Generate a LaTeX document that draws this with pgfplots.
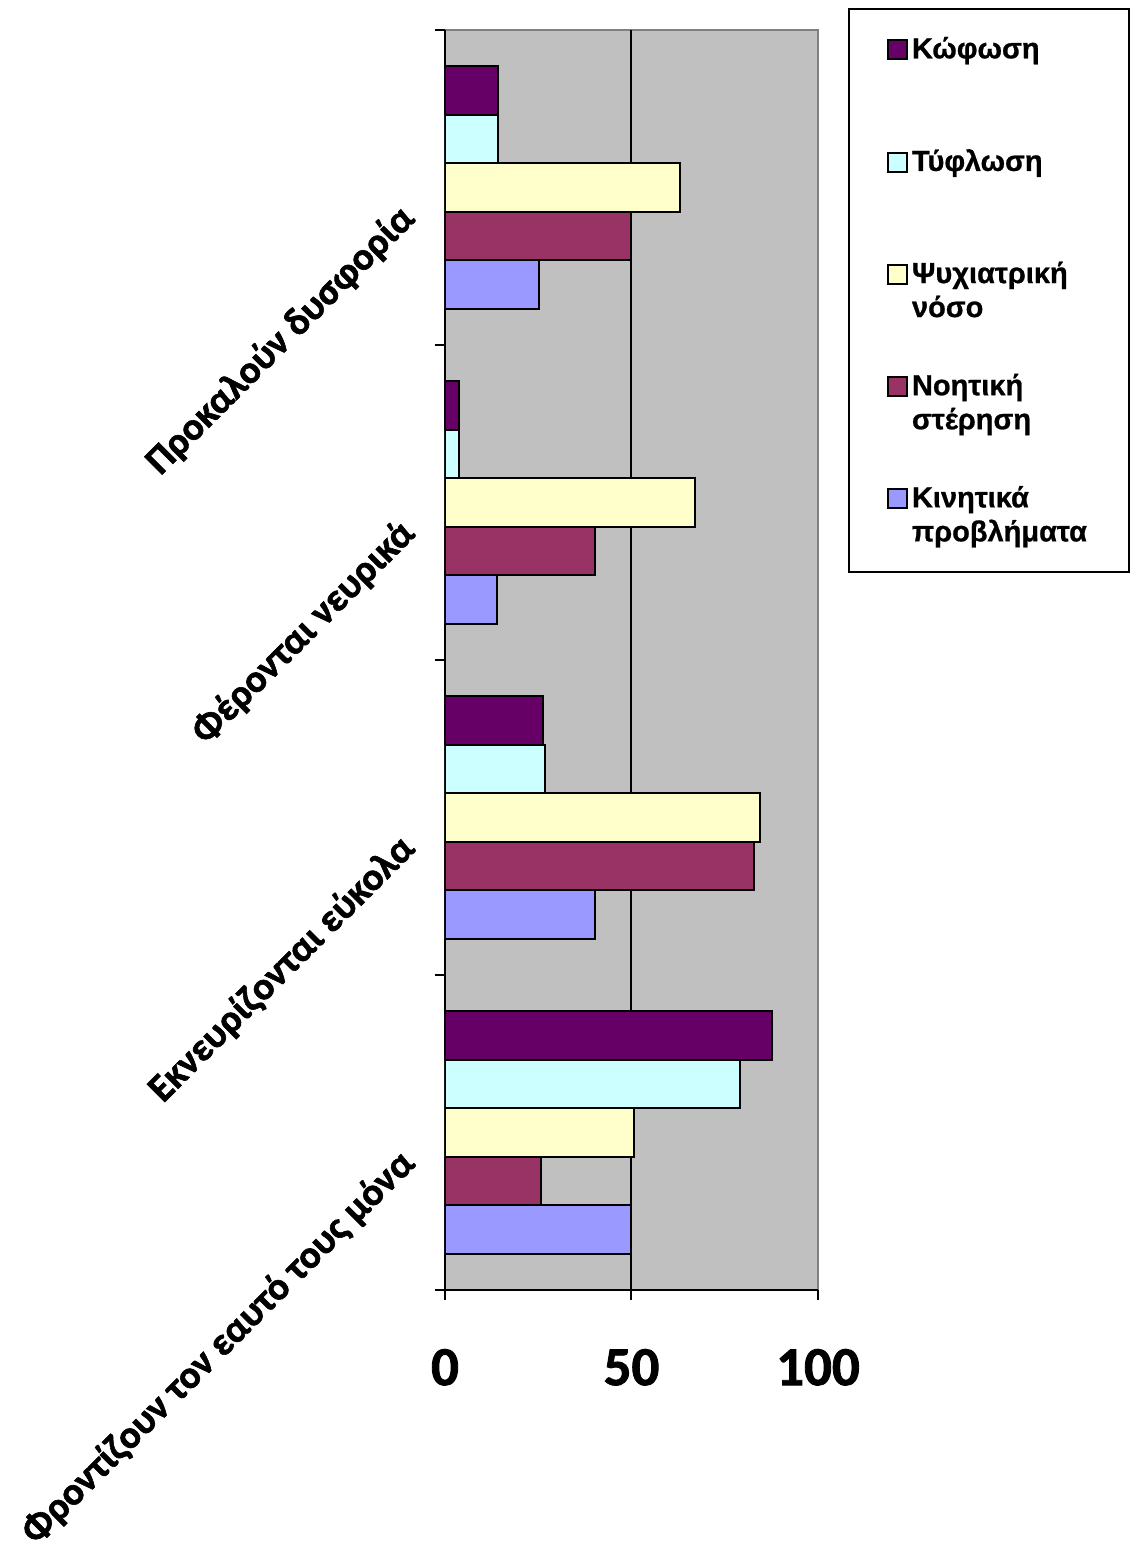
\documentclass[border=0pt]{standalone}
\usepackage{fontspec}
\setmainfont{Carlito}[BoldFont={Carlito Bold}]
\newfontfamily\catfont{Carlito Bold}[FakeBold=1.5]
\newfontfamily\legfont{Liberation Sans}[BoldFeatures={FakeBold=0.8}]
\usepackage{pgfplots}
\pgfplotsset{compat=1.18}
\definecolor{cKof}{HTML}{660066}
\definecolor{cTyf}{HTML}{CCFFFF}
\definecolor{cPsy}{HTML}{FFFFCC}
\definecolor{cNoi}{HTML}{993366}
\definecolor{cKin}{HTML}{9999FF}
\definecolor{bgGray}{HTML}{C0C0C0}
\definecolor{brdGray}{HTML}{808080}
\begin{document}
\begin{tikzpicture}
\useasboundingbox (-222.5pt,-130.5pt) rectangle (342.5pt,645pt);
\begin{axis}[
  scale only axis,
  width=186.5pt, height=630pt,
  xmin=0, xmax=100, ymin=-0.5, ymax=3.5,
  xbar=0pt, bar width=0.154,
  axis background/.style={fill=bgGray, draw=brdGray, line width=1pt},
  axis x line*=bottom, axis y line*=left,
  x axis line style={-, line width=1pt, black},
  y axis line style={-, line width=1pt, black},
  xtick={0,50,100},
  tick align=outside,
  major tick length=5pt,
  minor tick length=5pt,
  tick style={line width=1pt, black},
  extra x ticks={50},
  extra x tick labels={},
  extra x tick style={grid=major, major grid style={black, line width=1pt}, major tick length=0pt},
  ytick={0,1,2,3},
  yticklabels={Φροντίζουν τον εαυτό τους μόνα, Εκνευρίζονται εύκολα, Φέρονται νευρικά, Προκαλούν δυσφορία},
  minor ytick={-0.5,0.5,1.5,2.5,3.5},
  every major y tick/.style={draw=none},
  /pgf/number format/assume math mode=true,
  xticklabel style={font=\catfont\fontsize{27.5}{32}\selectfont, anchor=north, yshift=-21pt},
  yticklabel style={font=\catfont\fontsize{19.5}{23}\selectfont, xshift=-13pt, yshift=-12.5pt, rotate=45, anchor=east, inner sep=0pt},
  legend style={at={(1.0804,1.01746)}, anchor=north west, draw=black, line width=1pt,
    font=\legfont\bfseries\fontsize{14.5}{17}\selectfont,
    cells={anchor=west, align=left}, row sep=22.9pt, inner xsep=19pt, inner ysep=12pt},
  legend image code/.code={\draw[#1, draw=black, line width=1pt] (0pt,3.5pt) rectangle (9.5pt,13pt);},
]
\addplot[fill=cKof, draw=black, line width=1pt, bar shift=0.308] coordinates {(87.7,0) (26.3,1) (3.8,2) (14.2,3)};
\addlegendentry{Κώφωση\\\mbox{}}
\addplot[fill=cTyf, draw=black, line width=1pt, bar shift=0.154] coordinates {(79.1,0) (26.8,1) (3.8,2) (14.2,3)};
\addlegendentry{Τύφλωση\\\mbox{}}
\addplot[fill=cPsy, draw=black, line width=1pt, bar shift=0] coordinates {(50.7,0) (84.5,1) (67.0,2) (63.0,3)};
\addlegendentry{Ψυχιατρική\\νόσο}
\addplot[fill=cNoi, draw=black, line width=1pt, bar shift=-0.154] coordinates {(25.7,0) (82.8,1) (40.2,2) (49.9,3)};
\addlegendentry{Νοητική\\στέρηση}
\addplot[fill=cKin, draw=black, line width=1pt, bar shift=-0.308] coordinates {(49.9,0) (40.2,1) (13.9,2) (25.2,3)};
\addlegendentry{Κινητικά\\προβλήματα}
\end{axis}
\end{tikzpicture}
\end{document}
